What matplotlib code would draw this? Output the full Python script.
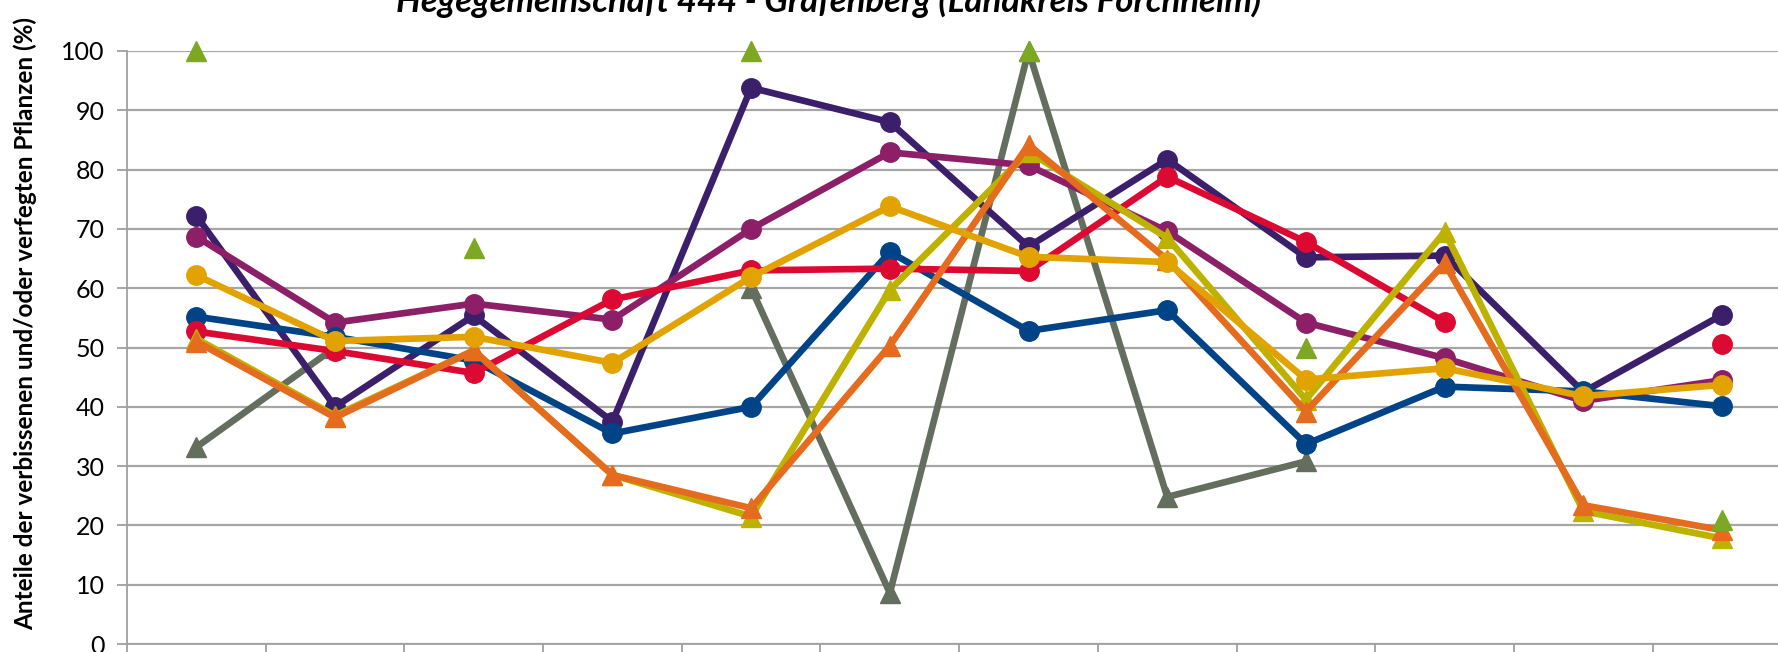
import numpy as np
import matplotlib
matplotlib.use("Agg")
import matplotlib.pyplot as plt
from matplotlib.ticker import MultipleLocator, NullFormatter

plt.rcParams['font.family'] = ['Lato', 'DejaVu Sans']

nan = np.nan
categories = list(range(1, 13))

# series (percent), nan = no value
s_grey = [33.2, 50.0, nan, nan, 60.0, 8.6, 100.0, 24.8, 30.8, nan, nan, nan]
s_indigo = [72.2, 40.0, 55.4, 37.5, 93.8, 88.0, 67.0, 81.7, 65.2, 65.5, 42.5, 55.5]
s_plum = [68.7, 54.2, 57.4, 54.7, 70.0, 82.9, 80.7, 69.6, 54.2, 48.2, 41.0, 44.5]
s_blue = [55.2, 51.8, 47.8, 35.5, 40.0, 66.1, 52.8, 56.3, 33.7, 43.4, 42.6, 40.1]
s_red = [52.7, 49.4, 45.7, 58.1, 63.0, 63.3, 62.9, 78.8, 67.8, 54.3, nan, 50.6]
s_olive = [51.5, 38.5, 49.5, 28.5, 21.5, 59.7, 83.0, 68.5, 41.2, 69.5, 22.4, 17.8]
s_orange = [51.0, 38.2, 49.5, 28.5, 22.9, 50.3, 84.2, 64.8, 39.2, 64.2, 23.4, 19.2]
s_gold = [62.2, 51.1, 51.8, 47.4, 61.9, 73.8, 65.3, 64.4, 44.6, 46.5, 41.8, 43.7]
s_green = [100.0, nan, 66.7, nan, 100.0, nan, 100.0, nan, 50.0, nan, nan, 20.9]

fig = plt.figure(figsize=(17.78, 6.52), dpi=100)
ax = fig.add_axes([127 / 1778, 8 / 652, 1651 / 1778, 593 / 652])

lw = 4.8
ax.plot(categories, s_grey, color='#646e5e', lw=lw, marker='^', ms=14, clip_on=False)
ax.plot(categories, s_indigo, color='#3c1f6b', lw=lw, marker='o', ms=14, clip_on=False)
ax.plot(categories, s_plum, color='#8c1f68', lw=lw, marker='o', ms=14, clip_on=False)
ax.plot(categories, s_blue, color='#004487', lw=lw, marker='o', ms=14, clip_on=False)
ax.plot(categories, s_red, color='#dc0a32', lw=lw, marker='o', ms=14, clip_on=False)
ax.plot(categories, s_olive, color='#bdb200', lw=lw, marker='^', ms=14, clip_on=False)
ax.plot(categories, s_orange, color='#e56b1f', lw=lw, marker='^', ms=14, clip_on=False)
ax.plot(categories, s_gold, color='#e2a300', lw=lw, marker='o', ms=14, clip_on=False)
ax.plot(categories, s_green, color='#7da823', lw=0, marker='^', ms=14, clip_on=False)

ax.set_xlim(0.5, 0.5 + 1651 / 138.7)
ax.set_ylim(0, 100)
ax.set_yticks(range(0, 101, 10))
ax.xaxis.set_major_locator(MultipleLocator(1, offset=0.5))
ax.xaxis.set_major_formatter(NullFormatter())
ax.grid(axis='y', color='#a6a6a6', lw=1.6)
ax.set_axisbelow(True)

for side in ['top', 'right']:
    ax.spines[side].set_visible(False)
for side in ['left', 'bottom']:
    ax.spines[side].set_color('#a0a0a0')
    ax.spines[side].set_linewidth(1.3)
ax.tick_params(axis='y', length=7, width=1.3, color='#a0a0a0', labelsize=18, pad=9)
ax.tick_params(axis='x', length=8, width=1.3, color='#a0a0a0')

fig.text(25 / 1778, 1 - 323 / 652, 'Anteile der verbissenen und/oder verfegten Pflanzen (%)',
         rotation=90, ha='center', va='center', fontsize=17.5, fontweight='bold')
fig.text(829 / 1778, 1 - 12 / 652, 'Hegegemeinschaft 444 - Gräfenberg (Landkreis Forchheim)',
         ha='center', va='baseline', fontsize=25, fontweight='bold', fontstyle='italic')

fig.savefig('out.png', dpi=100)
